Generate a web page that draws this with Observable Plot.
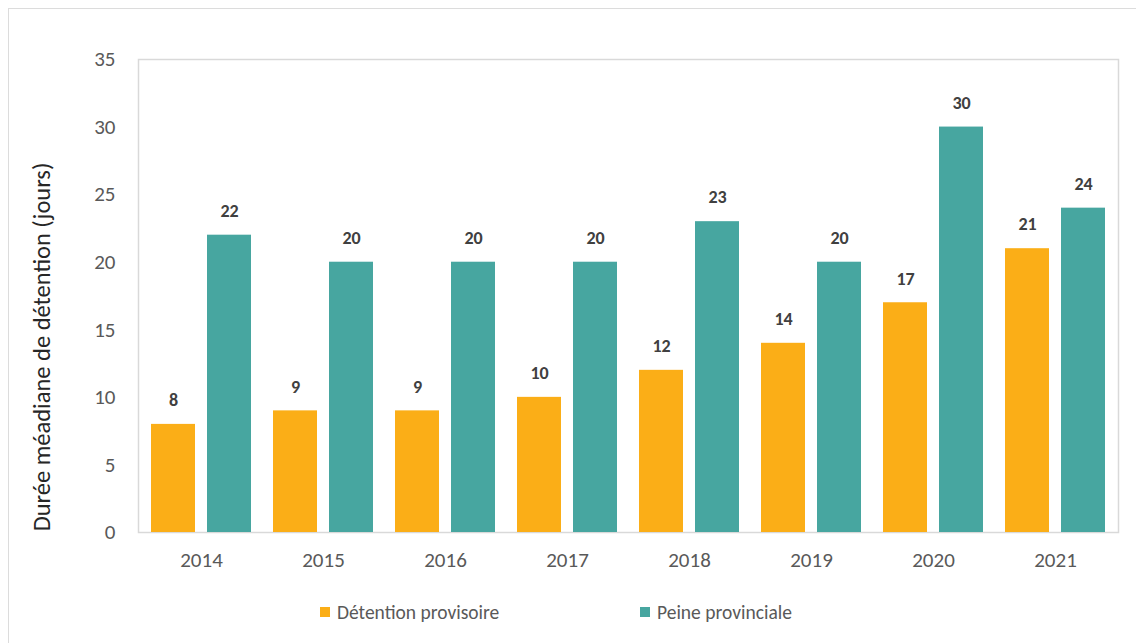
<!DOCTYPE html>
<html><head><meta charset="utf-8">
<script src="https://cdn.jsdelivr.net/npm/d3@7"></script>
<script src="https://cdn.jsdelivr.net/npm/@observablehq/plot@0.6"></script>
<style>
body{margin:0;background:#fff;font-family:Calibri,Carlito,Lato,"Open Sans",sans-serif;}
#wrap{position:relative;width:1136px;height:643px;overflow:hidden;}
#border{position:absolute;left:8px;top:8px;width:1200px;height:700px;border-left:1.5px solid #dcdcdc;border-top:1.5px solid #dcdcdc;}
#chart{position:absolute;left:0;top:0;}
#ylabel{position:absolute;left:42px;top:347px;transform:translate(-50%,-50%) rotate(-90deg);white-space:nowrap;font-size:24.5px;color:#262626;}
#legend{position:absolute;top:600px;left:0;width:1136px;font-size:19.5px;color:#595959;}
.item{position:absolute;display:flex;align-items:center;}
.sw{width:10px;height:10px;margin-right:7px;}
</style></head>
<body>
<div id="wrap">
<div id="border"></div>
<div id="chart"></div>
<div id="ylabel">Durée méadiane de détention (jours)</div>
<div id="legend"></div>
</div>
<script>
const years = ["2014","2015","2016","2017","2018","2019","2020","2021"];
const detention = [8,9,9,10,12,14,17,21];
const peine = [22,20,20,20,23,20,30,24];
const seriesNames = ["Détention provisoire","Peine provinciale"];
const colors = ["#FBAE17","#47A6A0"];
const yTicks = [0,5,10,15,20,25,30,35];

const dataA = years.map((y,i)=>({year:y, value:detention[i]}));
const dataB = years.map((y,i)=>({year:y, value:peine[i]}));

const labelStyle = {fontSize:18, fontWeight:"bold", fill:"#404040", dy:-24, text:d=>String(d.value)};

const chart = Plot.plot({
  width:1136, height:582,
  marginLeft:138, marginRight:18, marginTop:59, marginBottom:50,
  style:{fontFamily:'Calibri,Carlito,Lato,"Open Sans",sans-serif', background:"transparent", fontSize:"21px"},
  x:{domain:years, padding:0, label:null},
  y:{domain:[0,35], label:null},
  marks:[
    Plot.frame({stroke:"#d9d9d9", strokeWidth:1.5}),
    Plot.barY(dataA,{x:"year", y:"value", fill:colors[0], insetLeft:11, insetRight:67}),
    Plot.barY(dataB,{x:"year", y:"value", fill:colors[1], insetLeft:67, insetRight:11}),
    Plot.text(dataA,{x:"year", y:"value", dx:-28, ...labelStyle}),
    Plot.text(dataB,{x:"year", y:"value", dx:28, ...labelStyle}),
    Plot.axisY({ticks:yTicks, tickSize:0, tickPadding:23, fontSize:21, color:"#595959", label:null}),
    Plot.axisX({tickSize:0, tickPadding:20, fontSize:21, color:"#595959", label:null})
  ]
});
document.getElementById("chart").appendChild(chart);

const legend = document.getElementById("legend");
const legendX = [320, 640];
seriesNames.forEach((n,i)=>{
  const d = document.createElement("div");
  d.className="item";
  d.style.left = legendX[i]+"px";
  d.innerHTML = `<span class="sw" style="background:${colors[i]}"></span><span>${n}</span>`;
  legend.appendChild(d);
});
</script>
</body></html>
